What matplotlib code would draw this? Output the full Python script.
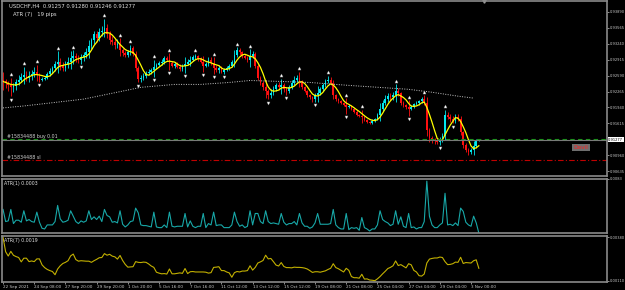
import numpy as np
import pandas as pd
import matplotlib
matplotlib.use("Agg")
import matplotlib.pyplot as plt
import matplotlib.transforms as mtransforms

# USDCHF H4 closes, price x 10^4 (one per bar, left to right)
close_pips = [
    9247, 9243, 9239, 9235, 9237, 9245, 9251, 9257, 9261, 9255,
    9259, 9263, 9267, 9261, 9251, 9253, 9255, 9263, 9269, 9275,
    9283, 9287, 9279, 9275, 9283, 9287, 9295, 9299, 9295, 9291,
    9297, 9301, 9307, 9319, 9331, 9343, 9335, 9347, 9351, 9357,
    9343, 9331, 9327, 9321, 9323, 9311, 9305, 9301, 9307, 9315,
    9303, 9275, 9253, 9255, 9259, 9265, 9267, 9271, 9277, 9281,
    9285, 9287, 9295, 9291, 9285, 9279, 9283, 9277, 9273, 9279,
    9283, 9287, 9291, 9297, 9299, 9293, 9287, 9279, 9283, 9291,
    9285, 9275, 9271, 9275, 9267, 9271, 9275, 9279, 9287, 9301,
    9311, 9307, 9299, 9295, 9291, 9299, 9303, 9279, 9255, 9243,
    9235, 9227, 9219, 9223, 9231, 9239, 9235, 9239, 9231, 9227,
    9235, 9243, 9251, 9255, 9247, 9235, 9227, 9219, 9215, 9211,
    9219, 9223, 9231, 9239, 9247, 9251, 9243, 9219, 9211, 9207,
    9203, 9199, 9195, 9197, 9191, 9185, 9179, 9177, 9175, 9169,
    9165, 9163, 9167, 9171, 9179, 9191, 9203, 9211, 9217, 9215,
    9219, 9227, 9223, 9203, 9199, 9195, 9191, 9195, 9201, 9203,
    9207, 9211, 9203, 9147, 9131, 9127, 9125, 9123, 9129, 9135,
    9179, 9175, 9171, 9167, 9175, 9171, 9143, 9117, 9107, 9103,
    9107, 9115, 9126, 9128,
]
first_open = 9249

# upper / lower shadow length of each bar, pips
wick_up = [
    18, 6, 5, 16, 6, 7, 10, 8, 16, 7,
    10, 8, 9, 14, 4, 4, 3, 4, 5, 4,
    6, 22, 7, 8, 6, 10, 14, 12, 7, 6,
    7, 6, 8, 12, 5, 8, 7, 10, 9, 18,
    8, 7, 9, 6, 10, 12, 5, 4, 5, 7,
    5, 6, 3, 6, 5, 4, 6, 4, 14, 4,
    4, 5, 3, 4, 14, 4, 3, 4, 5, 3,
    14, 5, 9, 4, 5, 3, 4, 12, 4, 5,
    5, 12, 6, 5, 4, 3, 4, 3, 4, 10,
    6, 4, 3, 4, 5, 14, 6, 4, 3, 4,
    4, 14, 4, 8, 6, 5, 7, 14, 5, 4,
    5, 6, 8, 6, 12, 3, 3, 2, 3, 3,
    4, 14, 5, 4, 5, 8, 6, 6, 3, 3,
    3, 2, 14, 4, 2, 2, 3, 2, 12, 2,
    2, 2, 3, 2, 4, 12, 6, 8, 7, 6,
    7, 14, 6, 3, 4, 3, 14, 4, 3, 4,
    3, 4, 8, 12, 4, 5, 4, 5, 4, 6,
    10, 6, 6, 5, 6, 5, 6, 3, 4, 5,
    4, 10, 3, 0,
]
wick_dn = [
    18, 10, 12, 18, 9, 7, 6, 5, 16, 8,
    9, 8, 6, 14, 5, 4, 4, 3, 4, 5,
    6, 18, 9, 7, 6, 8, 14, 12, 9, 7,
    8, 9, 7, 12, 6, 7, 8, 6, 7, 14,
    7, 8, 6, 8, 6, 12, 5, 4, 4, 5,
    4, 6, 8, 7, 5, 4, 5, 4, 14, 4,
    3, 4, 4, 3, 14, 3, 5, 3, 4, 4,
    14, 3, 8, 3, 4, 4, 3, 12, 3, 4,
    4, 12, 4, 6, 3, 4, 3, 4, 3, 10,
    4, 5, 4, 3, 4, 14, 5, 4, 5, 4,
    5, 14, 8, 5, 4, 4, 5, 14, 6, 7,
    4, 3, 4, 5, 12, 3, 2, 3, 3, 5,
    6, 14, 3, 4, 3, 4, 3, 8, 4, 4,
    2, 3, 14, 2, 3, 2, 2, 3, 12, 3,
    3, 2, 2, 3, 3, 12, 5, 4, 5, 6,
    5, 14, 6, 4, 5, 4, 14, 3, 3, 3,
    4, 3, 4, 12, 8, 6, 5, 4, 5, 6,
    8, 5, 6, 5, 4, 5, 6, 6, 5, 6,
    5, 10, 4, 1,
]

# slow moving average (dotted grey), read at a few bars
slow_ma_bar = [0, 8, 18, 31, 42, 53, 66, 76, 87, 95, 107, 118, 133, 156, 165, 175, 181]
slow_ma = [0.9193, 0.9197, 0.9203, 0.9211, 0.9223, 0.9235, 0.9241, 0.9241, 0.9245,
           0.9249, 0.9247, 0.9245, 0.9239, 0.9231, 0.9225, 0.9217, 0.9213]

date_labels = ["22 Sep 2021", "24 Sep 08:00", "27 Sep 20:00", "29 Sep 20:00",
               "1 Oct 20:00", "5 Oct 16:00", "7 Oct 16:00", "11 Oct 12:00",
               "13 Oct 12:00", "15 Oct 12:00", "19 Oct 08:00", "21 Oct 08:00",
               "25 Oct 04:00", "27 Oct 04:00", "29 Oct 04:00", "3 Nov 00:00"]
price_ticks = [0.93890, 0.93565, 0.93240, 0.92915, 0.92590, 0.92265,
               0.91940, 0.91615, 0.90960, 0.90635]
last_price = 0.91277
buy_price = 0.91290
sl_price = 0.90865

# ---- derived series
close = np.array(close_pips) / 1e4
open_ = np.r_[first_open / 1e4, close[:-1]]
high = np.maximum(open_, close) + np.array(wick_up) / 1e4
low = np.minimum(open_, close) - np.array(wick_dn) / 1e4
n = len(close)
x = np.arange(n)
ma = pd.Series(close).rolling(5, min_periods=1).mean()
prev = np.r_[open_[0], close[:-1]]
tr = np.maximum(high, prev) - np.minimum(low, prev)
atr1 = tr
atr7 = pd.Series(tr).rolling(7, min_periods=1).mean().values

fr_up = [i for i in range(2, n - 2)
         if high[i] > max(high[i - 2], high[i - 1], high[i + 1], high[i + 2])]
fr_dn = [i for i in range(2, n - 2)
         if low[i] < min(low[i - 2], low[i - 1], low[i + 1], low[i + 2])]

# ---- figure
W, H = 625, 290
fig = plt.figure(figsize=(W / 100, H / 100), dpi=100, facecolor='black')
plt.rcParams['font.family'] = 'DejaVu Sans'
FS = 3.0   # general small text
RS = 2.6   # right-hand scale labels

def panel(top, bottom):
    a = fig.add_axes([2 / W, (H - bottom) / H, 605 / W, (bottom - top) / H])
    a.set_facecolor('black')
    for s in a.spines.values():
        s.set_color('#8a8a8a')
        s.set_linewidth(1.2)
    a.set_xlim(-0.4, 232.3)
    a.yaxis.tick_right()
    a.tick_params(axis='y', colors='#c8c8c8', labelsize=RS, length=1.2, width=0.5, pad=0.6)
    a.tick_params(axis='x', bottom=False, labelbottom=False)
    return a

ax = panel(1, 176)
ax1 = panel(179, 233)
ax7 = panel(236, 282)

# main price panel
ax.set_ylim(0.90540, 0.94113)
col = np.where(close >= open_, '#00e8ee', '#ff1010')
ax.vlines(x, low, high, colors=col, lw=0.6)
ax.bar(x, np.maximum(np.abs(close - open_), 0.00004), bottom=np.minimum(open_, close),
       width=0.7, color=col, lw=0)
ax.plot(x, ma, color='#ffff00', lw=0.9)
ax.plot(slow_ma_bar, slow_ma, color='#c8c8c8', lw=0.7, ls=(0, (1, 1.5)))
ax.plot(fr_up, high[fr_up] + 0.0007, ls='none', marker='^', ms=2.2,
        mfc='white', mec='#909090', mew=0.3)
ax.plot(fr_dn, low[fr_dn] - 0.0007, ls='none', marker='v', ms=2.2,
        mfc='white', mec='#909090', mew=0.3)

ax.axhline(last_price, color='#7a7a7a', lw=0.8)
ax.axhline(buy_price, color='#1f8f1f', lw=0.8, ls=(0, (4, 3)))
ax.axhline(sl_price, color='#c00000', lw=0.8, ls=(0, (5, 2, 1, 2)))
blend = mtransforms.blended_transform_factory(ax.transAxes, ax.transData)
ax.text(0.008, buy_price + 0.0002, "#15834488 buy 0.01", color='#d0d0d0', fontsize=FS + 0.4,
        transform=blend)
ax.text(0.008, sl_price + 0.0002, "#15834488 sl", color='#d0d0d0', fontsize=FS + 0.4,
        transform=blend)
ax.text(0.957, 0.163, "Davil", color='#ff2020', fontsize=4.2, ha='center', va='center',
        transform=ax.transAxes,
        bbox=dict(boxstyle='square,pad=0.25', fc='#6e6e6e', ec='none'))

ax.set_yticks(price_ticks)
ax.set_yticklabels([f"{p:.5f}" for p in price_ticks])
ax.text(1.002, last_price, f"{last_price:.5f}", color='black', fontsize=RS, va='center',
        transform=blend, bbox=dict(boxstyle='square,pad=0.12', fc='white', ec='none'),
        clip_on=False)
ax.plot([185], [0.94113], marker='v', ms=2.5, color='#9a9a9a', clip_on=False)

ax.text(0.012, 0.985, "USDCHF,H4  0.91257 0.91280 0.91246 0.91277", color='#e0e0e0',
        fontsize=3.8, va='top', transform=ax.transAxes)
ax.text(0.018, 0.935, "ATR (7)   19 pips", color='#e0e0e0', fontsize=3.8, va='top',
        transform=ax.transAxes)

# ATR(1)
top1 = atr1.max() * 1.04
ax1.plot(x, atr1, color='#18a8a8', lw=0.8)
ax1.set_ylim(atr1.min(), top1)
ax1.set_yticks([top1])
ax1.set_yticklabels([f"{top1:.4f}"])
ax1.text(0.004, 0.96, f"ATR(1) {atr1[-1]:.4f}", color='#e0e0e0', fontsize=FS + 0.4, va='top',
         transform=ax1.transAxes)

# ATR(7)
lo, hi = atr7.min(), atr7.max()
ax7.plot(x, atr7, color='#c2b000', lw=0.8)
ax7.set_ylim(lo - (hi - lo) * 0.03, hi + (hi - lo) * 0.03)
ax7.set_yticks([lo, hi])
ax7.set_yticklabels([f"{lo:.5f}", f"{hi:.5f}"])
ax7.text(0.004, 0.95, f"ATR(7) {atr7[-1]:.4f}", color='#e0e0e0', fontsize=FS + 0.4, va='top',
         transform=ax7.transAxes)
ax7.set_xticks(np.arange(len(date_labels)) * 12)
ax7.set_xticklabels(date_labels, ha='left')
ax7.tick_params(axis='x', bottom=True, labelbottom=True, colors='#c8c8c8',
                labelsize=FS, length=1.5, width=0.5, pad=0.8)

fig.savefig("out.png", dpi=100, facecolor='black')
